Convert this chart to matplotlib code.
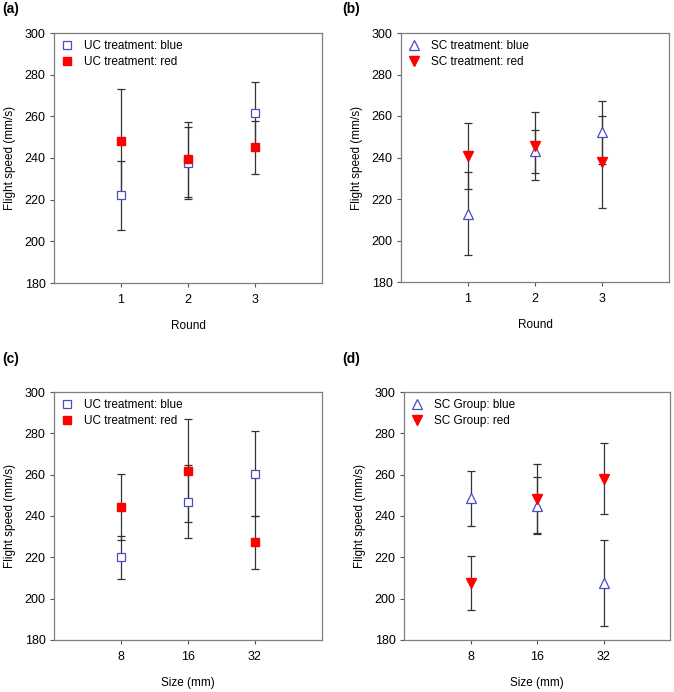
import matplotlib
matplotlib.use("Agg")
import matplotlib.pyplot as plt

plt.rcParams['font.family'] = ['Liberation Sans', 'DejaVu Sans']

# x categories
rounds = ["1", "2", "3"]
sizes = ["8", "16", "32"]

# (a) UC treatment by round
a_blue = [222, 237.5, 261.5]
a_blue_err = [16.6, 17.2, 15.0]
a_red = [248.3, 239.5, 245.2]
a_red_err = [24.6, 18.0, 12.8]

# (b) SC treatment by round
b_blue = [213.0, 243.0, 252.1]
b_blue_err = [20.0, 10.3, 15.1]
b_red = [240.6, 245.4, 237.8]
b_red_err = [16.0, 16.4, 22.0]

# (c) UC treatment by size
c_blue = [220.0, 247.0, 260.5]
c_blue_err = [10.5, 17.7, 20.7]
c_red = [244.3, 262.0, 227.2]
c_red_err = [15.8, 25.0, 13.0]

# (d) SC group by size
d_blue = [248.5, 245.0, 207.5]
d_blue_err = [13.3, 13.7, 20.7]
d_red = [207.5, 248.3, 258.1]
d_red_err = [13.0, 16.7, 17.3]

W, H = 674, 692
fig = plt.figure(figsize=(W / 100, H / 100), dpi=100)

BLUE = "#4b4bc8"
RED = "#ff0000"
ERR = "#333333"


def px_axes(l, t, r, b):
    return fig.add_axes([l / W, 1 - b / H, (r - l) / W, (b - t) / H])


def panel(ax, cats, blue, blue_err, red, red_err, lab_blue, lab_red, xlabel, square):
    x = [1, 2, 3]
    if square:
        mb, mr = "s", "s"
        ms = 5.5
    else:
        mb, mr = "^", "v"
        ms = 6.5
    ax.errorbar(x, blue, yerr=blue_err, fmt="none", ecolor=ERR, elinewidth=0.9,
                capsize=3.2, capthick=0.9, zorder=2)
    ax.errorbar(x, red, yerr=red_err, fmt="none", ecolor=ERR, elinewidth=0.9,
                capsize=3.2, capthick=0.9, zorder=2)
    ax.plot(x, blue, linestyle="none", marker=mb, markersize=ms, markerfacecolor="white",
            markeredgecolor=BLUE, markeredgewidth=0.9, label=lab_blue, zorder=3)
    ax.plot(x, red, linestyle="none", marker=mr, markersize=ms, markerfacecolor=RED,
            markeredgecolor=RED, label=lab_red, zorder=4)
    ax.set_xlim(0, 4)
    ax.set_ylim(180, 300)
    ax.set_xticks(x)
    ax.set_xticklabels(cats)
    ax.set_yticks(range(180, 301, 20))
    for s in ax.spines.values():
        s.set_color("#7f7f7f")
        s.set_linewidth(0.9)
    ax.tick_params(axis="both", labelsize=9, length=3, width=0.8, color="#555555",
                   direction="out", pad=5)
    ax.tick_params(axis="y", pad=3)
    ax.set_xlabel(xlabel, fontsize=8.5, labelpad=10)
    ax.set_ylabel("Flight speed (mm/s)", fontsize=8.5, labelpad=6)
    ax.legend(loc="upper left", frameon=False, fontsize=8.5, handletextpad=0.9,
              handlelength=1.0, borderaxespad=0.25, labelspacing=0.35,
              borderpad=0.35)


ax_a = px_axes(54, 33, 322, 283)
panel(ax_a, rounds, a_blue, a_blue_err, a_red, a_red_err,
      "UC treatment: blue", "UC treatment: red", "Round", True)
ax_b = px_axes(401, 33, 669, 282)
panel(ax_b, rounds, b_blue, b_blue_err, b_red, b_red_err,
      "SC treatment: blue", "SC treatment: red", "Round", False)
ax_c = px_axes(54, 392, 322, 640)
panel(ax_c, sizes, c_blue, c_blue_err, c_red, c_red_err,
      "UC treatment: blue", "UC treatment: red", "Size (mm)", True)
ax_d = px_axes(404, 392, 670, 640)
panel(ax_d, sizes, d_blue, d_blue_err, d_red, d_red_err,
      "SC Group: blue", "SC Group: red", "Size (mm)", False)

for lab, xp, yp in [("(a)", 2, 9), ("(b)", 342, 9), ("(c)", 2, 359), ("(d)", 342, 359)]:
    fig.text(xp / W, 1 - yp / H, lab, fontsize=10, fontweight="bold", va="center", ha="left")

fig.savefig("out.png", dpi=100)
